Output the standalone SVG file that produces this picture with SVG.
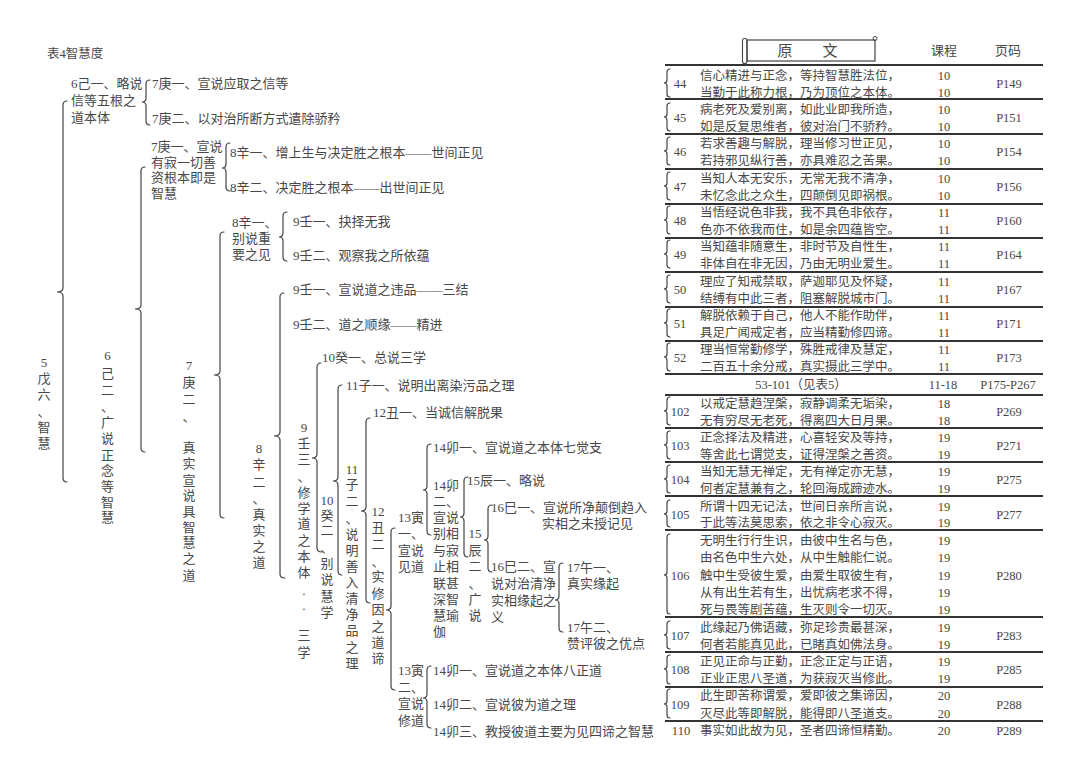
<svg xmlns="http://www.w3.org/2000/svg" width="1080" height="775" viewBox="0 0 1080 775">
<style>
.t{font-family:"Liberation Serif","Noto Sans CJK SC",serif;font-size:13px;fill:#484848}
.s{font-size:12.5px}
.m{text-anchor:middle}
.h{font-size:15px}
.br{fill:none;stroke:#444;stroke-width:1.2;stroke-linecap:round}
.sep{stroke:#333;stroke-width:1.8}
</style>
<rect width="1080" height="775" fill="#fff"/>
<text class="t s" x="47" y="57.5">表4智慧度</text>

<g id="connectors">
<path class="br" d="M67,101 Q63,101 63,105 L63,288 Q63,292 57,292 Q63,292 63,296 L63,478 Q63,482 67,482"/>
<path class="br" d="M150,80 Q146,80 146,84 L146,98 Q146,102 142,102 Q146,102 146,106 L146,121 Q146,125 150,125"/>
<path class="br" d="M145,167 Q141,167 141,171 L141,305 Q141,309 135,309 Q141,309 141,313 L141,448 Q141,452 145,452"/>
<path class="br" d="M230,143 Q226,143 226,147 L226,164 Q226,168 222,168 Q226,168 226,172 L226,187 Q226,191 230,191"/>
<path class="br" d="M224,232 Q220,232 220,236 L220,371 Q220,375 214,375 Q220,375 220,379 L220,514 Q220,518 224,518"/>
<path class="br" d="M287,212 Q283,212 283,216 L283,233 Q283,237 279,237 Q283,237 283,241 L283,257 Q283,261 287,261"/>
<path class="br" d="M284,293 Q280,293 280,297 L280,432 Q280,436 274,436 Q280,436 280,440 L280,574 Q280,578 285,578"/>
<path class="br" d="M321,363 Q317,363 317,367 L317,454 Q317,458 312,458 Q317,458 317,462 L317,548 Q317,552 322,552"/>
<path class="br" d="M342,385 Q338,385 338,389 L338,477 Q338,481 333,481 Q338,481 338,485 L338,571 Q338,575 342,575"/>
<path class="br" d="M370,418 Q366,418 366,422 L366,507 Q366,511 361,511 Q366,511 366,515 L366,599 Q366,603 370,603"/>
<path class="br" d="M395,528 Q391,528 391,532 L391,606 Q391,610 386,610 Q391,610 391,614 L391,686 Q391,690 395,690"/>
<path class="br" d="M431,444 Q427,444 427,448 L427,486 Q427,490 423,490 Q427,490 427,494 L427,531 Q427,535 431,535"/>
<path class="br" d="M468,477 Q464,477 464,481 L464,513 Q464,517 460,517 Q464,517 464,521 L464,553 Q464,557 468,557"/>
<path class="br" d="M492,505 Q488,505 488,509 L488,536 Q488,540 484,540 Q488,540 488,544 L488,568 Q488,572 492,572"/>
<path class="br" d="M563,563 Q559,563 559,567 L559,596 Q559,600 555,600 Q559,600 559,604 L559,628 Q559,632 563,632"/>
<path class="br" d="M431,666 Q427,666 427,670 L427,694 Q427,698 423,698 Q427,698 427,702 L427,724 Q427,728 431,728"/>
<!-- table braces -->
<path class="br" d="M670,69 Q667,69 667,72 L667,80 Q667,83 664,83 Q667,83 667,86 L667,94 Q667,97 670,97"/>
<path class="br" d="M670,103 Q667,103 667,106 L667,114 Q667,117 664,117 Q667,117 667,120 L667,128 Q667,131 670,131"/>
<path class="br" d="M670,137 Q667,137 667,140 L667,148 Q667,151 664,151 Q667,151 667,154 L667,162 Q667,165 670,165"/>
<path class="br" d="M670,172 Q667,172 667,175 L667,183 Q667,186 664,186 Q667,186 667,189 L667,197 Q667,200 670,200"/>
<path class="br" d="M670,206 Q667,206 667,209 L667,217 Q667,220 664,220 Q667,220 667,223 L667,231 Q667,234 670,234"/>
<path class="br" d="M670,240 Q667,240 667,243 L667,251 Q667,254 664,254 Q667,254 667,257 L667,265 Q667,268 670,268"/>
<path class="br" d="M670,275 Q667,275 667,278 L667,286 Q667,289 664,289 Q667,289 667,292 L667,300 Q667,303 670,303"/>
<path class="br" d="M670,309 Q667,309 667,312 L667,320 Q667,323 664,323 Q667,323 667,326 L667,334 Q667,337 670,337"/>
<path class="br" d="M670,343 Q667,343 667,346 L667,354 Q667,357 664,357 Q667,357 667,360 L667,368 Q667,371 670,371"/>
<path class="br" d="M670,397 Q667,397 667,400 L667,408 Q667,411 664,411 Q667,411 667,414 L667,422 Q667,425 670,425"/>
<path class="br" d="M670,431 Q667,431 667,434 L667,442 Q667,445 664,445 Q667,445 667,448 L667,456 Q667,459 670,459"/>
<path class="br" d="M670,465 Q667,465 667,468 L667,476 Q667,479 664,479 Q667,479 667,482 L667,490 Q667,493 670,493"/>
<path class="br" d="M670,500 Q667,500 667,503 L667,511 Q667,514 664,514 Q667,514 667,517 L667,524 Q667,527 670,527"/>
<path class="br" d="M670,534 Q667,534 667,537 L667,572 Q667,575 664,575 Q667,575 667,578 L667,611 Q667,614 670,614"/>
<path class="br" d="M670,621 Q667,621 667,624 L667,632 Q667,635 664,635 Q667,635 667,638 L667,646 Q667,649 670,649"/>
<path class="br" d="M670,655 Q667,655 667,658 L667,666 Q667,669 664,669 Q667,669 667,672 L667,681 Q667,684 670,684"/>
<path class="br" d="M670,689 Q667,689 667,692 L667,701 Q667,704 664,704 Q667,704 667,707 L667,715 Q667,718 670,718"/>
</g>

<g id="n5wu6"><text class="t m"><tspan x="44" y="366.5">5</tspan><tspan x="44" y="382.5">戊</tspan><tspan x="44" y="398.5">六</tspan><tspan x="44" y="415.5">、</tspan><tspan x="44" y="431.5">智</tspan><tspan x="44" y="447.5">慧</tspan></text></g>

<g id="n6ji1"><text class="t"><tspan x="71" y="87.5">6己一、略说</tspan><tspan x="71" y="104.5">信等五根之</tspan><tspan x="71" y="121.5">道本体</tspan></text></g>
<g id="n7geng1a"><text class="t" x="152" y="87.5">7庚一、宣说应取之信等</text></g>
<g id="n7geng2a"><text class="t" x="152" y="122.5">7庚二、以对治所断方式遣除骄矜</text></g>

<g id="n6ji2"><text class="t m"><tspan x="107.5" y="359.5">6</tspan><tspan x="107.5" y="377.5">己</tspan><tspan x="107.5" y="394.5">二</tspan><tspan x="107.5" y="410.5">、</tspan><tspan x="107.5" y="426.5">广</tspan><tspan x="107.5" y="442.5">说</tspan><tspan x="107.5" y="459.5">正</tspan><tspan x="107.5" y="474.5">念</tspan><tspan x="107.5" y="490.5">等</tspan><tspan x="107.5" y="506.5">智</tspan><tspan x="107.5" y="521.5">慧</tspan></text></g>

<g id="n7geng1b"><text class="t"><tspan x="151" y="150.5">7庚一、宣说</tspan><tspan x="151" y="166.5">有寂一切善</tspan><tspan x="151" y="182">资根本即是</tspan><tspan x="151" y="197.5">智慧</tspan></text></g>
<g id="n8xin1a"><text class="t" x="230" y="156.5">8辛一、增上生与决定胜之根本——世间正见</text></g>
<g id="n8xin2a"><text class="t" x="230" y="191.5">8辛二、决定胜之根本——出世间正见</text></g>

<g id="n7geng2b"><text class="t m"><tspan x="189" y="369.5">7</tspan><tspan x="189" y="386.5">庚</tspan><tspan x="189" y="403.5">二</tspan><tspan x="189" y="420.5">、</tspan><tspan x="189" y="451.5">真</tspan><tspan x="189" y="467.5">实</tspan><tspan x="189" y="484.5">宣</tspan><tspan x="189" y="499.5">说</tspan><tspan x="189" y="515.5">具</tspan><tspan x="189" y="531.5">智</tspan><tspan x="189" y="546.5">慧</tspan><tspan x="189" y="562.5">之</tspan><tspan x="189" y="579.5">道</tspan></text></g>

<g id="n8xin1b"><text class="t"><tspan x="232" y="226.5">8辛一、</tspan><tspan x="232" y="242.5">别说重</tspan><tspan x="232" y="258.5">要之见</tspan></text></g>
<g id="n9ren1a"><text class="t" x="293" y="225.5">9壬一、抉择无我</text></g>
<g id="n9ren2a"><text class="t" x="293" y="259.5">9壬二、观察我之所依蕴</text></g>

<g id="n8xin2b"><text class="t m"><tspan x="259" y="452.5">8</tspan><tspan x="259" y="468.5">辛</tspan><tspan x="259" y="486.5">二</tspan><tspan x="259" y="502.5">、</tspan><tspan x="259" y="518.5">真</tspan><tspan x="259" y="534.5">实</tspan><tspan x="259" y="550.5">之</tspan><tspan x="259" y="566.5">道</tspan></text></g>
<g id="n9ren1b"><text class="t" x="293" y="293.5">9壬一、宣说道之违品——三结</text></g>
<g id="n9ren2b"><text class="t" x="293" y="328.5">9壬二、道之顺缘——精进</text></g>

<g id="n9ren3"><text class="t m"><tspan x="304" y="431.5">9</tspan><tspan x="304" y="447.5">壬</tspan><tspan x="304" y="463.5">三</tspan><tspan x="304" y="480.5">、</tspan><tspan x="304" y="496.5">修</tspan><tspan x="304" y="512.5">学</tspan><tspan x="304" y="527.5">道</tspan><tspan x="304" y="544.5">之</tspan><tspan x="304" y="560.5">本</tspan><tspan x="304" y="576.5">体</tspan><tspan x="304" y="597.5">·</tspan><tspan x="304" y="612.5">·</tspan><tspan x="304" y="639.5">三</tspan><tspan x="304" y="656.5">学</tspan></text></g>
<g id="n10gui1"><text class="t" x="322" y="361.5">10癸一、总说三学</text></g>

<g id="n10gui2"><text class="t m"><tspan x="327" y="504.5">10</tspan><tspan x="327" y="519.5">癸</tspan><tspan x="327" y="534.5">二</tspan><tspan x="327" y="551.5">、</tspan><tspan x="327" y="567.5">别</tspan><tspan x="327" y="583.5">说</tspan><tspan x="327" y="600.5">慧</tspan><tspan x="327" y="616.5">学</tspan></text></g>
<g id="n11zi1"><text class="t" x="346" y="389.5">11子一、说明出离染污品之理</text></g>

<g id="n11zi2"><text class="t m"><tspan x="352" y="473.5">11</tspan><tspan x="352" y="488.5">子</tspan><tspan x="352" y="505.5">二</tspan><tspan x="352" y="522.5">、</tspan><tspan x="352" y="538.5">说</tspan><tspan x="352" y="554.5">明</tspan><tspan x="352" y="570.5">善</tspan><tspan x="352" y="586.5">入</tspan><tspan x="352" y="602.5">清</tspan><tspan x="352" y="618.5">净</tspan><tspan x="352" y="634.5">品</tspan><tspan x="352" y="651.5">之</tspan><tspan x="352" y="667.5">理</tspan></text></g>
<g id="n12chou1"><text class="t" x="373" y="416.5">12丑一、当诚信解脱果</text></g>

<g id="n12chou2"><text class="t m"><tspan x="378" y="515.5">12</tspan><tspan x="378" y="531.5">丑</tspan><tspan x="378" y="548.5">二</tspan><tspan x="378" y="565.5">、</tspan><tspan x="378" y="580.5">实</tspan><tspan x="378" y="597.5">修</tspan><tspan x="378" y="613.5">因</tspan><tspan x="378" y="630.5">之</tspan><tspan x="378" y="646.5">道</tspan><tspan x="378" y="662.5">谛</tspan></text></g>

<g id="n13yin1"><text class="t"><tspan x="398" y="521.5">13寅</tspan><tspan x="398" y="537.5">一、</tspan><tspan x="398" y="554.5">宣说</tspan><tspan x="398" y="570.5">见道</tspan></text></g>
<g id="n14mao1a"><text class="t" x="433" y="451.5">14卯一、宣说道之本体七觉支</text></g>
<g id="n14mao2a"><text class="t"><tspan x="433" y="489.5">14卯</tspan><tspan x="433" y="505.5">二、</tspan><tspan x="433" y="521.5">宣说</tspan><tspan x="433" y="537.5">别相</tspan><tspan x="433" y="554.5">与寂</tspan><tspan x="433" y="570.5">止相</tspan><tspan x="433" y="587.5">联甚</tspan><tspan x="433" y="603.5">深智</tspan><tspan x="433" y="619.5">慧瑜</tspan><tspan x="433" y="635.5">伽</tspan></text></g>
<g id="n15chen1"><text class="t" x="467" y="484.5">15辰一、略说</text></g>
<g id="n15chen2"><text class="t m"><tspan x="475" y="537.5">15</tspan><tspan x="475" y="554.5">辰</tspan><tspan x="475" y="570.5">二</tspan><tspan x="475" y="587.5">、</tspan><tspan x="475" y="603.5">广</tspan><tspan x="475" y="619.5">说</tspan></text></g>
<g id="n16si1"><text class="t"><tspan x="491" y="511.5">16巳一、宣说所净颠倒趋入</tspan><tspan x="542" y="527.5">实相之未授记见</tspan></text></g>
<g id="n16si2"><text class="t"><tspan x="491" y="570.5">16巳二、宣</tspan><tspan x="491" y="587.5">说对治清净</tspan><tspan x="491" y="604.5">实相缘起之</tspan><tspan x="491" y="621.5">义</tspan></text></g>
<g id="n17wu1"><text class="t"><tspan x="567" y="571.5">17午一、</tspan><tspan x="567" y="587.5">真实缘起</tspan></text></g>
<g id="n17wu2"><text class="t"><tspan x="567" y="631.5">17午二、</tspan><tspan x="567" y="647.5">赞评彼之优点</tspan></text></g>

<g id="n13yin2"><text class="t"><tspan x="398" y="674.5">13寅</tspan><tspan x="398" y="691.5">二、</tspan><tspan x="398" y="707.5">宣说</tspan><tspan x="398" y="724.5">修道</tspan></text></g>
<g id="n14mao1b"><text class="t" x="433" y="674.5">14卯一、宣说道之本体八正道</text></g>
<g id="n14mao2b"><text class="t" x="433" y="708.5">14卯二、宣说彼为道之理</text></g>
<g id="n14mao3"><text class="t" x="433" y="735.5">14卯三、教授彼道主要为见四谛之智慧</text></g>

<g id="table-header">
<rect x="747" y="40" width="128" height="21" fill="none" stroke="#444" stroke-width="1.2"/>
<rect x="742.5" y="38.5" width="4.5" height="25" rx="2" fill="none" stroke="#444" stroke-width="1.1"/>
<circle cx="875" cy="38.5" r="2" fill="none" stroke="#444" stroke-width="1"/>
<text class="t h m" x="785" y="55.5">原</text>
<text class="t h m" x="830" y="55.5">文</text>
<text class="t m" x="944" y="55">课程</text>
<text class="t m" x="1008" y="55">页码</text>
</g>

<g id="table-lines">
<line class="sep" x1="665" y1="65" x2="1043" y2="65"/>
<line class="sep" x1="665" y1="99" x2="1043" y2="99"/>
<line class="sep" x1="665" y1="134" x2="1043" y2="134"/>
<line class="sep" x1="665" y1="169" x2="1043" y2="169"/>
<line class="sep" x1="665" y1="204" x2="1043" y2="204"/>
<line class="sep" x1="665" y1="238" x2="1043" y2="238"/>
<line class="sep" x1="665" y1="272" x2="1043" y2="272"/>
<line class="sep" x1="665" y1="307" x2="1043" y2="307"/>
<line class="sep" x1="665" y1="341" x2="1043" y2="341"/>
<line class="sep" x1="665" y1="374" x2="1043" y2="374"/>
<line class="sep" x1="665" y1="395" x2="1043" y2="395"/>
<line class="sep" x1="665" y1="428" x2="1043" y2="428"/>
<line class="sep" x1="665" y1="462" x2="1043" y2="462"/>
<line class="sep" x1="665" y1="496" x2="1043" y2="496"/>
<line class="sep" x1="665" y1="530" x2="1043" y2="530"/>
<line class="sep" x1="665" y1="617" x2="1043" y2="617"/>
<line class="sep" x1="665" y1="652" x2="1043" y2="652"/>
<line class="sep" x1="665" y1="687" x2="1043" y2="687"/>
<line class="sep" x1="665" y1="721" x2="1043" y2="721"/>
</g>

<g id="row44"><text class="t s m" x="680" y="88">44</text><text class="t s"><tspan x="700" y="79.5">信心精进与正念，等持智慧胜法位，</tspan><tspan x="700" y="96.5">当勤于此称力根，乃为顶位之本体。</tspan></text><text class="t s m"><tspan x="944" y="79.5">10</tspan><tspan x="944" y="96.5">10</tspan></text><text class="t s m" x="1009" y="88">P149</text></g>
<g id="row45"><text class="t s m" x="680" y="122">45</text><text class="t s"><tspan x="700" y="113.5">病老死及爱别离，如此业即我所造，</tspan><tspan x="700" y="130.5">如是反复思维者，彼对治门不骄矜。</tspan></text><text class="t s m"><tspan x="944" y="113.5">10</tspan><tspan x="944" y="130.5">10</tspan></text><text class="t s m" x="1009" y="122">P151</text></g>
<g id="row46"><text class="t s m" x="680" y="156">46</text><text class="t s"><tspan x="700" y="147.5">若求善趣与解脱，理当修习世正见，</tspan><tspan x="700" y="164.5">若持邪见纵行善，亦具难忍之苦果。</tspan></text><text class="t s m"><tspan x="944" y="147.5">10</tspan><tspan x="944" y="164.5">10</tspan></text><text class="t s m" x="1009" y="156">P154</text></g>
<g id="row47"><text class="t s m" x="680" y="191">47</text><text class="t s"><tspan x="700" y="182.5">当知人本无安乐，无常无我不清净，</tspan><tspan x="700" y="199.5">未忆念此之众生，四颠倒见即祸根。</tspan></text><text class="t s m"><tspan x="944" y="182.5">10</tspan><tspan x="944" y="199.5">10</tspan></text><text class="t s m" x="1009" y="191">P156</text></g>
<g id="row48"><text class="t s m" x="680" y="225">48</text><text class="t s"><tspan x="700" y="216.5">当悟经说色非我，我不具色非依存，</tspan><tspan x="700" y="233.5">色亦不依我而住，如是余四蕴皆空。</tspan></text><text class="t s m"><tspan x="944" y="216.5">11</tspan><tspan x="944" y="233.5">11</tspan></text><text class="t s m" x="1009" y="225">P160</text></g>
<g id="row49"><text class="t s m" x="680" y="259">49</text><text class="t s"><tspan x="700" y="250.5">当知蕴非随意生，非时节及自性生，</tspan><tspan x="700" y="267.5">非体自在非无因，乃由无明业爱生。</tspan></text><text class="t s m"><tspan x="944" y="250.5">11</tspan><tspan x="944" y="267.5">11</tspan></text><text class="t s m" x="1009" y="259">P164</text></g>
<g id="row50"><text class="t s m" x="680" y="294">50</text><text class="t s"><tspan x="700" y="285.5">理应了知戒禁取，萨迦耶见及怀疑，</tspan><tspan x="700" y="302.5">结缚有中此三者，阻塞解脱城市门。</tspan></text><text class="t s m"><tspan x="944" y="285.5">11</tspan><tspan x="944" y="302.5">11</tspan></text><text class="t s m" x="1009" y="294">P167</text></g>
<g id="row51"><text class="t s m" x="680" y="328">51</text><text class="t s"><tspan x="700" y="319.5">解脱依赖于自己，他人不能作助伴，</tspan><tspan x="700" y="336.5">具足广闻戒定者，应当精勤修四谛。</tspan></text><text class="t s m"><tspan x="944" y="319.5">11</tspan><tspan x="944" y="336.5">11</tspan></text><text class="t s m" x="1009" y="328">P171</text></g>
<g id="row52"><text class="t s m" x="680" y="362">52</text><text class="t s"><tspan x="700" y="353.5">理当恒常勤修学，殊胜戒律及慧定，</tspan><tspan x="700" y="370.5">二百五十余分戒，真实摄此三学中。</tspan></text><text class="t s m"><tspan x="944" y="353.5">11</tspan><tspan x="944" y="370.5">11</tspan></text><text class="t s m" x="1009" y="362">P173</text></g>
<g id="row53-101"><text class="t s m" x="801" y="388.5">53-101（见表5）</text><text class="t s m" x="943" y="388.5">11-18</text><text class="t s m" x="1008" y="388.5">P175-P267</text></g>
<g id="row102"><text class="t s m" x="680" y="416">102</text><text class="t s"><tspan x="700" y="407.5">以戒定慧趋涅槃，寂静调柔无垢染，</tspan><tspan x="700" y="424.5">无有穷尽无老死，得离四大日月果。</tspan></text><text class="t s m"><tspan x="944" y="407.5">18</tspan><tspan x="944" y="424.5">18</tspan></text><text class="t s m" x="1009" y="416">P269</text></g>
<g id="row103"><text class="t s m" x="680" y="450">103</text><text class="t s"><tspan x="700" y="441.5">正念择法及精进，心喜轻安及等持，</tspan><tspan x="700" y="458.5">等舍此七谓觉支，证得涅槃之善资。</tspan></text><text class="t s m"><tspan x="944" y="441.5">19</tspan><tspan x="944" y="458.5">19</tspan></text><text class="t s m" x="1009" y="450">P271</text></g>
<g id="row104"><text class="t s m" x="680" y="484">104</text><text class="t s"><tspan x="700" y="475.5">当知无慧无禅定，无有禅定亦无慧，</tspan><tspan x="700" y="492.5">何者定慧兼有之，轮回海成蹄迹水。</tspan></text><text class="t s m"><tspan x="944" y="475.5">19</tspan><tspan x="944" y="492.5">19</tspan></text><text class="t s m" x="1009" y="484">P275</text></g>
<g id="row105"><text class="t s m" x="680" y="518.5">105</text><text class="t s"><tspan x="700" y="510.5">所谓十四无记法，世间日亲所言说，</tspan><tspan x="700" y="526.5">于此等法莫思索，依之非令心寂灭。</tspan></text><text class="t s m"><tspan x="944" y="510.5">19</tspan><tspan x="944" y="526.5">19</tspan></text><text class="t s m" x="1009" y="518.5">P277</text></g>
<g id="row106"><text class="t s m" x="680" y="579.5">106</text><text class="t s"><tspan x="700" y="544.5">无明生行行生识，由彼中生名与色，</tspan><tspan x="700" y="561.5">由名色中生六处，从中生触能仁说。</tspan><tspan x="700" y="579.5">触中生受彼生爱，由爱生取彼生有，</tspan><tspan x="700" y="596.5">从有出生若有生，出忧病老求不得，</tspan><tspan x="700" y="614">死与畏等剧苦蕴，生灭则令一切灭。</tspan></text><text class="t s m"><tspan x="944" y="544.5">19</tspan><tspan x="944" y="561.5">19</tspan><tspan x="944" y="579.5">19</tspan><tspan x="944" y="596.5">19</tspan><tspan x="944" y="614">19</tspan></text><text class="t s m" x="1009" y="579.5">P280</text></g>
<g id="row107"><text class="t s m" x="680" y="640">107</text><text class="t s"><tspan x="700" y="631.5">此缘起乃佛语藏，弥足珍贵最甚深，</tspan><tspan x="700" y="648.5">何者若能真见此，已睹真如佛法身。</tspan></text><text class="t s m"><tspan x="944" y="631.5">19</tspan><tspan x="944" y="648.5">19</tspan></text><text class="t s m" x="1009" y="640">P283</text></g>
<g id="row108"><text class="t s m" x="680" y="674">108</text><text class="t s"><tspan x="700" y="665.5">正见正命与正勤，正念正定与正语，</tspan><tspan x="700" y="682.5">正业正思八圣道，为获寂灭当修此。</tspan></text><text class="t s m"><tspan x="944" y="665.5">19</tspan><tspan x="944" y="682.5">19</tspan></text><text class="t s m" x="1009" y="674">P285</text></g>
<g id="row109"><text class="t s m" x="680" y="708.5">109</text><text class="t s"><tspan x="700" y="699.5">此生即苦称谓爱，爱即彼之集谛因，</tspan><tspan x="700" y="717.5">灭尽此等即解脱，能得即八圣道支。</tspan></text><text class="t s m"><tspan x="944" y="699.5">20</tspan><tspan x="944" y="717.5">20</tspan></text><text class="t s m" x="1009" y="708.5">P288</text></g>
<g id="row110"><text class="t s m" x="681" y="734.5">110</text><text class="t s" x="700" y="734.5">事实如此故为见，圣者四谛恒精勤。</text><text class="t s m" x="944" y="734.5">20</text><text class="t s m" x="1009" y="734.5">P289</text></g>
</svg>
